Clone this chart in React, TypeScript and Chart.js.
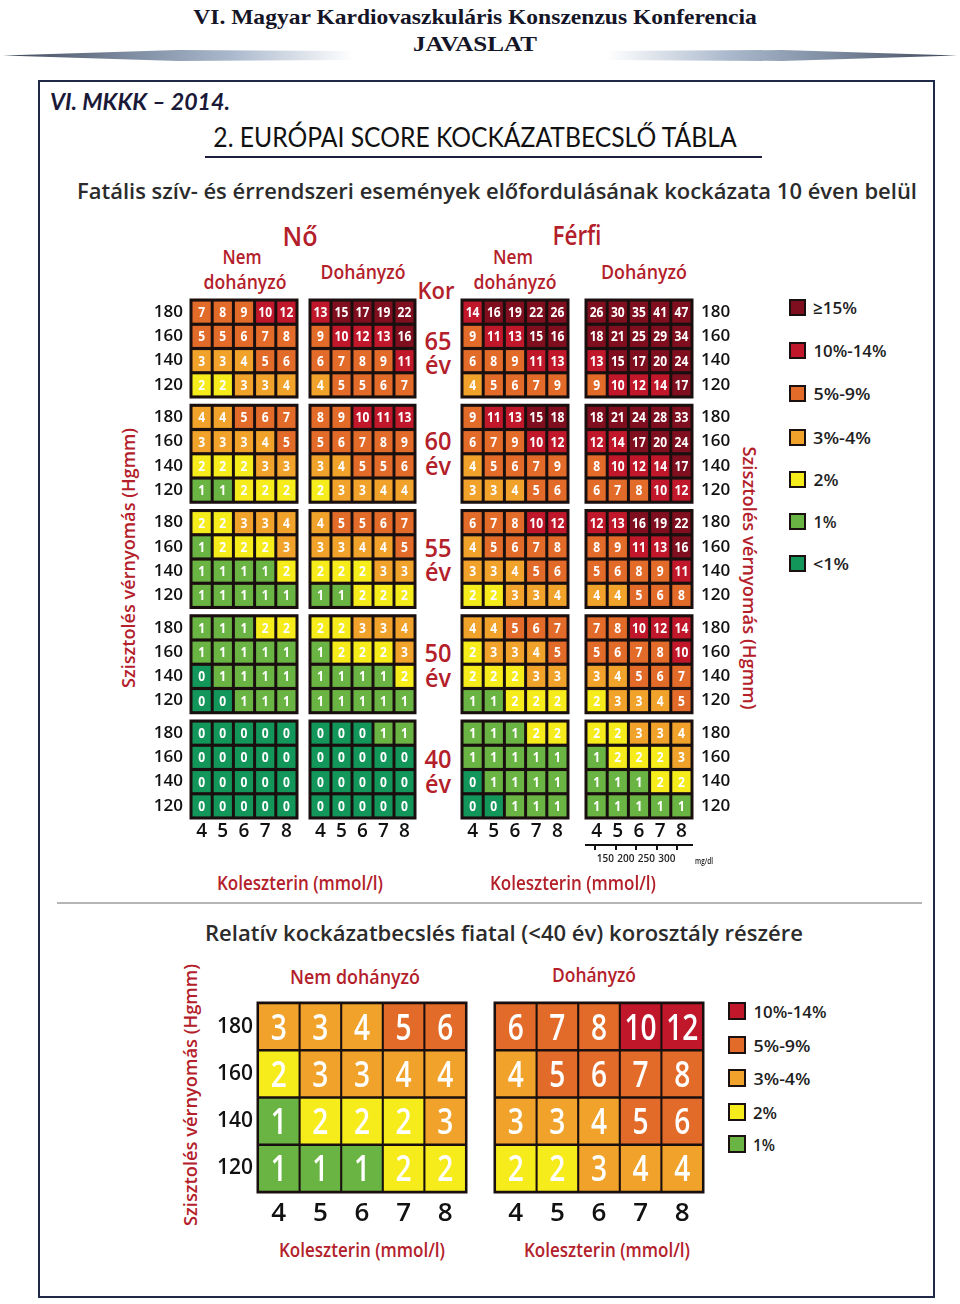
import React, { useEffect, useRef } from 'react';
import { Chart, registerables } from 'chart.js';

Chart.register(...registerables);

// ---------------- data ----------------
const CHOLESTEROL = ['4', '5', '6', '7', '8'];
const SBP_LEVELS = ['180', '160', '140', '120'];
const AGE_GROUPS = ['65', '60', '55', '50', '40'];
const MGDL_TICKS = [150, 200, 250, 300];

// rows: SBP 180,160,140,120 ; columns: cholesterol 4..8 ; blocks: age 65,60,55,50,40
const womenNonSmoker = [
  [[7, 8, 9, 10, 12], [5, 5, 6, 7, 8], [3, 3, 4, 5, 6], [2, 2, 3, 3, 4]],
  [[4, 4, 5, 6, 7], [3, 3, 3, 4, 5], [2, 2, 2, 3, 3], [1, 1, 2, 2, 2]],
  [[2, 2, 3, 3, 4], [1, 2, 2, 2, 3], [1, 1, 1, 1, 2], [1, 1, 1, 1, 1]],
  [[1, 1, 1, 2, 2], [1, 1, 1, 1, 1], [0, 1, 1, 1, 1], [0, 0, 1, 1, 1]],
  [[0, 0, 0, 0, 0], [0, 0, 0, 0, 0], [0, 0, 0, 0, 0], [0, 0, 0, 0, 0]],
];
const womenSmoker = [
  [[13, 15, 17, 19, 22], [9, 10, 12, 13, 16], [6, 7, 8, 9, 11], [4, 5, 5, 6, 7]],
  [[8, 9, 10, 11, 13], [5, 6, 7, 8, 9], [3, 4, 5, 5, 6], [2, 3, 3, 4, 4]],
  [[4, 5, 5, 6, 7], [3, 3, 4, 4, 5], [2, 2, 2, 3, 3], [1, 1, 2, 2, 2]],
  [[2, 2, 3, 3, 4], [1, 2, 2, 2, 3], [1, 1, 1, 1, 2], [1, 1, 1, 1, 1]],
  [[0, 0, 0, 1, 1], [0, 0, 0, 0, 0], [0, 0, 0, 0, 0], [0, 0, 0, 0, 0]],
];
const menNonSmoker = [
  [[14, 16, 19, 22, 26], [9, 11, 13, 15, 16], [6, 8, 9, 11, 13], [4, 5, 6, 7, 9]],
  [[9, 11, 13, 15, 18], [6, 7, 9, 10, 12], [4, 5, 6, 7, 9], [3, 3, 4, 5, 6]],
  [[6, 7, 8, 10, 12], [4, 5, 6, 7, 8], [3, 3, 4, 5, 6], [2, 2, 3, 3, 4]],
  [[4, 4, 5, 6, 7], [2, 3, 3, 4, 5], [2, 2, 2, 3, 3], [1, 1, 2, 2, 2]],
  [[1, 1, 1, 2, 2], [1, 1, 1, 1, 1], [0, 1, 1, 1, 1], [0, 0, 1, 1, 1]],
];
const menSmoker = [
  [[26, 30, 35, 41, 47], [18, 21, 25, 29, 34], [13, 15, 17, 20, 24], [9, 10, 12, 14, 17]],
  [[18, 21, 24, 28, 33], [12, 14, 17, 20, 24], [8, 10, 12, 14, 17], [6, 7, 8, 10, 12]],
  [[12, 13, 16, 19, 22], [8, 9, 11, 13, 16], [5, 6, 8, 9, 11], [4, 4, 5, 6, 8]],
  [[7, 8, 10, 12, 14], [5, 6, 7, 8, 10], [3, 4, 5, 6, 7], [2, 3, 3, 4, 5]],
  [[2, 2, 3, 3, 4], [1, 2, 2, 2, 3], [1, 1, 1, 2, 2], [1, 1, 1, 1, 1]],
];
const youngNonSmoker = [
  [[3, 3, 4, 5, 6], [2, 3, 3, 4, 4], [1, 2, 2, 2, 3], [1, 1, 1, 2, 2]],
];
const youngSmoker = [
  [[6, 7, 8, 10, 12], [4, 5, 6, 7, 8], [3, 3, 4, 5, 6], [2, 2, 3, 4, 4]],
];

const RISK_BANDS = ['≥15%', '10%-14%', '5%-9%', '3%-4%', '2%', '1%', '<1%'];
const YOUNG_BANDS = ['10%-14%', '5%-9%', '3%-4%', '2%', '1%'];

// ---------------- styles ----------------
const BAND_COLORS: Record<string, string> = {
  '≥15%': '#7f0e1e',
  '10%-14%': '#c0172a',
  '5%-9%': '#e36b29',
  '3%-4%': '#f0a22a',
  '2%': '#f6ec1c',
  '1%': '#6ab443',
  '<1%': '#12965a',
};
function riskColor(v: number) {
  if (v >= 15) return BAND_COLORS['≥15%'];
  if (v >= 10) return BAND_COLORS['10%-14%'];
  if (v >= 5) return BAND_COLORS['5%-9%'];
  if (v >= 3) return BAND_COLORS['3%-4%'];
  if (v >= 2) return BAND_COLORS['2%'];
  if (v >= 1) return BAND_COLORS['1%'];
  return BAND_COLORS['<1%'];
}
const FRAME = '#1a0f0f';
const RED = '#b3202a';
const DARK = '#2b2b2b';
const SANS = '"Open Sans", "DejaVu Sans", sans-serif';
const LATO = 'Lato, "Open Sans", sans-serif';
const SERIF = '"Liberation Serif", "Times New Roman", serif';

let mctx: CanvasRenderingContext2D | null = null;
function measure(text: string, font: string) {
  if (!mctx) mctx = document.createElement('canvas').getContext('2d');
  mctx!.font = font;
  return mctx!.measureText(text).width;
}

type TxtProps = {
  text: string; cx: number; cy: number; w?: number; size: number; weight?: number;
  color?: string; family?: string; italic?: boolean; rot?: number;
};
function Txt({ text, cx, cy, w, size, weight = 600, color = DARK, family = SANS, italic = false, rot = 0 }: TxtProps) {
  const font = `${italic ? 'italic ' : ''}${weight} ${size}px ${family}`;
  const mw = measure(text, font);
  const sx = w ? w / mw : 1;
  return (
    <div
      style={{
        position: 'absolute', left: cx, top: cy, whiteSpace: 'pre',
        fontFamily: family, fontSize: size, fontWeight: weight, fontStyle: italic ? 'italic' : 'normal',
        lineHeight: 1, color,
        transform: `translate(-50%, -50%) rotate(${rot}deg) scaleX(${sx})`,
      }}
    >
      {text}
    </div>
  );
}
// left-anchored helper
const TL = (p: Omit<TxtProps, 'cx'> & { x1: number; w: number }) => <Txt {...p} cx={p.x1 + p.w / 2} />;

type TableProps = {
  blocks: number[][][]; left: number; top: number; width: number; height: number;
  yAxis: 'left' | 'right' | null; yW: number; xH: number; pitch: number;
  insetY: number; barPct: number; numSize: number; numScale: number; numWeight: string | number;
  xFont: number; yFont: number; xPad: number; yPad: number; frameExt: number; pad: number; mgdl?: boolean;
};

function HeatTable(p: TableProps) {
  const ref = useRef<HTMLCanvasElement>(null);
  useEffect(() => {
    if (!ref.current) return;
    const nb = p.blocks.length;
    const total = (nb - 1) * p.pitch + 4;
    const datasets: any[] = [];
    const centers: number[] = [];
    p.blocks.forEach((block, b) =>
      block.forEach((row, r) => {
        const lo = b * p.pitch + r + p.insetY;
        const hi = b * p.pitch + r + 1 - p.insetY;
        centers.push(b * p.pitch + r + 0.5);
        datasets.push({
          data: row.map(() => [lo, hi]),
          risk: row,
          backgroundColor: row.map(riskColor),
          borderWidth: 0,
          barPercentage: p.barPct,
          categoryPercentage: 1,
          grouped: false,
        });
      })
    );
    const e = p.frameExt;
    const cellPlugin = {
      id: 'cells',
      beforeDatasetsDraw(chart: any) {
        const { ctx, chartArea: a } = chart;
        const y = chart.scales.y;
        ctx.save();
        ctx.fillStyle = FRAME;
        for (let b = 0; b < nb; b++) {
          const t = y.getPixelForValue(b * p.pitch);
          const bt = y.getPixelForValue(b * p.pitch + 4);
          ctx.fillRect(a.left - e, t - e, a.right - a.left + 2 * e, bt - t + 2 * e);
        }
        ctx.restore();
      },
      afterDatasetsDraw(chart: any) {
        const ctx = chart.ctx;
        ctx.save();
        ctx.fillStyle = '#ffffff';
        ctx.font = `${p.numWeight} ${p.numSize}px ${SANS}`;
        ctx.textAlign = 'center';
        ctx.textBaseline = 'alphabetic';
        chart.data.datasets.forEach((ds: any, d: number) => {
          const meta = chart.getDatasetMeta(d);
          meta.data.forEach((el: any, i: number) => {
            const { x, y, base } = el.getProps(['x', 'y', 'base'], true);
            const cy = (y + base) / 2;
            ctx.save();
            ctx.translate(x, cy + p.numSize * 0.36);
            ctx.scale(p.numScale, 1);
            ctx.fillText(String(ds.risk[i]), 0, 0);
            ctx.restore();
          });
        });
        ctx.restore();
      },
    };
    const scales: any = {
      x: {
        type: 'category',
        weight: 0,
        grid: { display: false, drawTicks: false },
        border: { display: false },
        ticks: { autoSkip: false, maxRotation: 0, padding: p.xPad, color: '#111', font: { family: SANS, size: p.xFont, weight: 600 } },
        afterFit: (s: any) => { s.height = p.xH; s.paddingLeft = 0; s.paddingRight = 0; },
      },
      y: {
        type: 'linear',
        min: 0,
        max: total,
        reverse: true,
        display: p.yAxis ? true : false,
        position: p.yAxis || 'left',
        grid: { display: false, drawTicks: false },
        border: { display: false },
        ticks: {
          autoSkip: false, padding: p.yPad, color: '#111',
          font: { family: SANS, size: p.yFont, weight: 600 },
          callback: (_v: any, i: number) => SBP_LEVELS[i % 4],
        },
        afterBuildTicks: (s: any) => { s.ticks = centers.map((v) => ({ value: v })); },
        afterFit: (s: any) => {
          if (p.yAxis) s.width = p.yW;
          s.paddingTop = 0;
          s.paddingBottom = 0;
        },
      },
    };
    if (p.mgdl) {
      scales.x2 = {
        type: 'linear',
        position: 'bottom',
        weight: 1,
        min: 3.5,
        max: 8.5,
        grid: { display: true, drawOnChartArea: false, drawTicks: true, tickLength: 5, color: '#111', lineWidth: 2 },
        border: { display: true, color: '#111', width: 2 },
        ticks: {
          autoSkip: false, maxRotation: 0, padding: 3, color: '#222',
          font: { family: SANS, size: 10, weight: 600 },
          callback: (_v: any, i: number) => String(MGDL_TICKS[i]),
        },
        afterBuildTicks: (s: any) => { s.ticks = MGDL_TICKS.map((m) => ({ value: m / 38.67 })); },
        afterFit: (s: any) => { s.height = 24; s.paddingLeft = 0; s.paddingRight = 0; },
      };
    }
    const chart = new Chart(ref.current, {
      type: 'bar',
      data: { labels: CHOLESTEROL, datasets },
      options: {
        animation: false,
        responsive: false,
        maintainAspectRatio: false,
        events: [],
        layout: {
          padding: {
            top: p.pad,
            bottom: 0,
            left: p.yAxis === 'left' ? 0 : p.pad,
            right: p.yAxis === 'right' ? 0 : p.pad,
          },
        },
        plugins: { legend: { display: false }, tooltip: { enabled: false } },
        scales,
      } as any,
      plugins: [cellPlugin as any],
    });
    return () => chart.destroy();
  }, []);
  return (
    <canvas
      ref={ref}
      width={p.width}
      height={p.height}
      style={{ position: 'absolute', left: p.left, top: p.top, width: p.width, height: p.height }}
    />
  );
}

// main tables geometry
const MAIN_TOP = 297;
const MAIN_PITCH = 4.34;
const mainCommon = {
  pitch: MAIN_PITCH, insetY: 0.065, barPct: 0.86, numSize: 14, numScale: 0.86, numWeight: 'bold',
  xFont: 19, yFont: 17, xPad: 2, yPad: 8, frameExt: 1.5, pad: 3, yW: 50, xH: 30,
};
const youngCommon = {
  pitch: 4, insetY: 0.025, barPct: 0.95, numSize: 36, numScale: 0.78, numWeight: 600,
  xFont: 26, yFont: 21, xPad: 6, yPad: 5, frameExt: 1.5, pad: 3, yW: 46, xH: 40,
};

function Legend({ bands, x, ys, size, textW }: { bands: string[]; x: number; ys: number[]; size: number; textW: number[] }) {
  return (
    <>
      {bands.map((b, i) => (
        <React.Fragment key={b}>
          <div
            style={{
              position: 'absolute', left: x, top: ys[i] - size / 2, width: size, height: size,
              boxSizing: 'border-box', border: '2px solid #1a1010', background: BAND_COLORS[b],
            }}
          />
          <TL text={b} x1={x + size + 7} w={textW[i]} cy={ys[i]} size={17} color="#1e1e1e" />
        </React.Fragment>
      ))}
    </>
  );
}

const AGE_Y = [[340, 364], [440, 465], [547, 571], [652, 677], [758, 783]];

export default function App() {
  return (
    <div style={{ position: 'absolute', left: 0, top: 0, width: 960, height: 1304, background: '#fff', overflow: 'hidden' }}>
      {/* document header */}
      <Txt text="VI. Magyar Kardiovaszkuláris Konszenzus Konferencia" cx={475} cy={17} w={564} size={22} weight={700} family={SERIF} color="#151528" />
      <Txt text="JAVASLAT" cx={475} cy={44} w={124} size={22} weight={700} family={SERIF} color="#151528" />
      <div style={{ position: 'absolute', left: 3, top: 50, width: 350, height: 11, background: 'linear-gradient(to right, #3d4757 0%, #7d8ba0 35%, #aab8cc 65%, rgba(255,255,255,0) 100%)', clipPath: 'polygon(0 50%, 50% 0, 100% 10%, 100% 90%, 50% 100%)' }} />
      <div style={{ position: 'absolute', left: 607, top: 50, width: 350, height: 11, background: 'linear-gradient(to left, #3d4757 0%, #7d8ba0 35%, #aab8cc 65%, rgba(255,255,255,0) 100%)', clipPath: 'polygon(100% 50%, 50% 0, 0 10%, 0 90%, 50% 100%)' }} />
      <div style={{ position: 'absolute', left: 38, top: 80, width: 897, height: 1218, boxSizing: 'border-box', border: '2px solid #1f2a48' }} />
      <Txt text="VI. MKKK – 2014." cx={140} cy={102} w={180} size={22} weight={700} italic family={LATO} color="#1a1a38" />
      <Txt text="2. EURÓPAI SCORE KOCKÁZATBECSLŐ TÁBLA" cx={475} cy={136} w={524} size={27} weight={400} family={LATO} color="#111" />
      <div style={{ position: 'absolute', left: 205, top: 156, width: 557, height: 2, background: '#1b1f3a' }} />

      {/* main chart titles */}
      <Txt text="Fatális szív- és érrendszeri események előfordulásának kockázata 10 éven belül" cx={497} cy={190} w={840} size={22} />
      <Txt text="Nő" cx={300} cy={235} w={35} size={27} color={RED} />
      <Txt text="Férfi" cx={577} cy={234} w={49} size={27} color={RED} />
      <Txt text="Nem" cx={242} cy={257} w={39} size={19} color={RED} />
      <Txt text="dohányzó" cx={245} cy={282} w={83} size={19} color={RED} />
      <Txt text="Dohányzó" cx={363} cy={272} w={85} size={19} color={RED} />
      <Txt text="Nem" cx={513} cy={257} w={40} size={19} color={RED} />
      <Txt text="dohányzó" cx={515} cy={282} w={83} size={19} color={RED} />
      <Txt text="Dohányzó" cx={644} cy={272} w={86} size={19} color={RED} />
      <Txt text="Kor" cx={436} cy={290} w={37} size={24} color={RED} />
      {AGE_GROUPS.map((a, i) => (
        <React.Fragment key={a}>
          <Txt text={a} cx={438} cy={AGE_Y[i][0]} w={27} size={25} color={RED} />
          <Txt text="év" cx={438} cy={AGE_Y[i][1]} w={26} size={25} color={RED} />
        </React.Fragment>
      ))}
      <Txt text="Szisztolés vérnyomás (Hgmm)" cx={128} cy={558} w={260} size={18} color={RED} rot={-90} />
      <Txt text="Szisztolés vérnyomás (Hgmm)" cx={750} cy={578} w={263} size={18} color={RED} rot={90} />

      <HeatTable {...mainCommon} blocks={womenNonSmoker} left={141} top={MAIN_TOP} width={159} height={551} yAxis="left" />
      <HeatTable {...mainCommon} blocks={womenSmoker} left={307} top={MAIN_TOP} width={111} height={551} yAxis={null} />
      <HeatTable {...mainCommon} blocks={menNonSmoker} left={459} top={MAIN_TOP} width={112} height={551} yAxis={null} />
      <HeatTable {...mainCommon} blocks={menSmoker} left={583} top={MAIN_TOP} width={159} height={572} yAxis="right" yPad={9} xH={27} mgdl />

      <Txt text="mg/dl" cx={704} cy={860} w={18} size={9} color="#222" />
      <Txt text="Koleszterin (mmol/l)" cx={300} cy={883} w={166} size={19} color={RED} />
      <Txt text="Koleszterin (mmol/l)" cx={573} cy={883} w={166} size={19} color={RED} />

      <Legend bands={RISK_BANDS} x={789} ys={[307, 350, 393, 437, 479, 521, 563]} size={17} textW={[44, 73, 57, 58, 25, 23, 36]} />

      <div style={{ position: 'absolute', left: 57, top: 902, width: 865, height: 2, background: '#b5b5b5' }} />

      {/* young age relative risk */}
      <Txt text="Relatív kockázatbecslés fiatal (<40 év) korosztály részére" cx={504} cy={932} w={598} size={22} />
      <Txt text="Nem dohányzó" cx={355} cy={977} w={130} size={19} color={RED} />
      <Txt text="Dohányzó" cx={594} cy={975} w={84} size={19} color={RED} />
      <Txt text="Szisztolés vérnyomás (Hgmm)" cx={190} cy={1095} w={262} size={18} color={RED} rot={-90} />

      <HeatTable {...youngCommon} blocks={youngNonSmoker} left={212} top={1000} width={257} height={232} yAxis="left" />
      <HeatTable {...youngCommon} blocks={youngSmoker} left={492} top={1000} width={214} height={232} yAxis={null} />

      <Txt text="Koleszterin (mmol/l)" cx={362} cy={1250} w={166} size={19} color={RED} />
      <Txt text="Koleszterin (mmol/l)" cx={607} cy={1250} w={166} size={19} color={RED} />

      <Legend bands={YOUNG_BANDS} x={728} ys={[1011, 1045, 1078, 1112, 1144]} size={18} textW={[73, 57, 57, 24, 22]} />
    </div>
  );
}
